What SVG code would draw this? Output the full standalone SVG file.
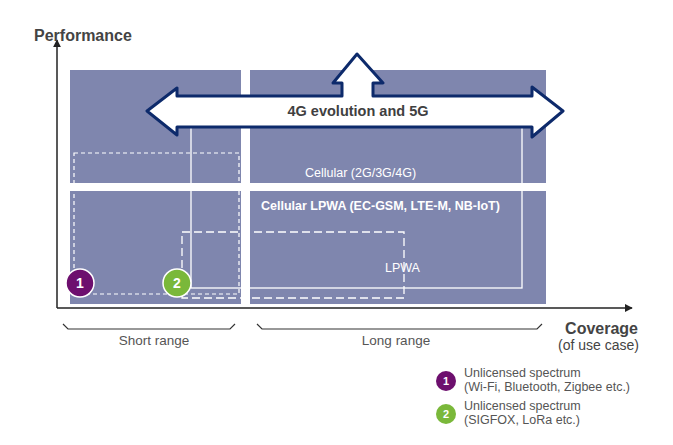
<svg xmlns="http://www.w3.org/2000/svg" width="673" height="445" viewBox="0 0 673 445">
<style>
.panel{fill:#7f86ae}
.t{font-family:"Liberation Sans",Arial,sans-serif}
.w{fill:#fff;font-size:12.5px}
.g{fill:#555;font-size:12.5px}
.ax{stroke:#222;stroke-width:1.5;fill:none}
.brace{stroke:#333;stroke-width:1.2;fill:none}
</style>
<defs>
<marker id="ah" viewBox="0 0 10 10" refX="9" refY="5" markerWidth="8" markerHeight="8" markerUnits="userSpaceOnUse" orient="auto"><path d="M0,0L10,5L0,10z" fill="#222"/></marker>
</defs>
<rect width="673" height="445" fill="#fff"/>
<g id="panels">
<rect class="panel" x="70" y="70" width="171" height="113"/>
<rect class="panel" x="70" y="191" width="171" height="113"/>
<rect class="panel" x="250" y="70" width="296" height="113"/>
<rect class="panel" x="250" y="191" width="296" height="113"/>
</g>
<g id="regions" fill="none" stroke="#fff">
<rect x="74" y="153" width="165" height="141" stroke-width="1.2" stroke-dasharray="4,3"/>
<rect x="182" y="232" width="222" height="66" stroke-width="1.3" stroke-dasharray="8,4"/>
<rect x="191" y="110" width="331" height="178" stroke-width="1.3"/>
</g>
<g id="axes">
<line class="ax" x1="57" y1="308" x2="57" y2="40" marker-end="url(#ah)"/>
<line class="ax" x1="57" y1="308" x2="632" y2="308" marker-end="url(#ah)"/>
</g>
<g id="evolution-arrow">
<path d="M147,111 L177,88 L177,96 L342,96 L342,83 L333,83 L357,54 L383,83 L373,83 L373,96 L532,96 L532,87 L563,111 L532,137 L532,127 L177,127 L177,135 Z" fill="#fff" stroke="#0d2a6b" stroke-width="3" stroke-linejoin="round"/>
<text class="t" x="358" y="116" text-anchor="middle" font-size="14.5" font-weight="bold" fill="#404040">4G evolution and 5G</text>
</g>
<g id="labels">
<text class="t w" x="305" y="177">Cellular (2G/3G/4G)</text>
<text class="t w" x="261" y="210" font-weight="bold">Cellular LPWA (EC-GSM, LTE-M, NB-IoT)</text>
<text class="t w" x="385" y="272">LPWA</text>
</g>
<g id="badges" font-family="Liberation Sans,Arial,sans-serif" font-weight="bold" text-anchor="middle" fill="#fff">
<circle cx="80" cy="283" r="14" fill="#6d0f6e" stroke="#fff" stroke-width="1.5"/>
<text x="80" y="288" font-size="14">1</text>
<circle cx="177" cy="283" r="14" fill="#7ab83a" stroke="#fff" stroke-width="1.5"/>
<text x="177" y="288" font-size="14">2</text>
</g>
<g id="braces">
<path class="brace" d="M63,324 L68,329 L230,329 L235,324"/>
<path class="brace" d="M257,324 L262,329 L537,329 L542,324"/>
<text class="t" x="154" y="345" text-anchor="middle" font-size="13.5" fill="#555">Short range</text>
<text class="t" x="396" y="345" text-anchor="middle" font-size="13.5" fill="#555">Long range</text>
</g>
<g id="axis-titles">
<text class="t" x="34" y="41" font-size="16" font-weight="bold" fill="#444">Performance</text>
<text class="t" x="638" y="334" text-anchor="end" font-size="16" font-weight="bold" fill="#444">Coverage</text>
<text class="t" x="639" y="350" text-anchor="end" font-size="14" fill="#444">(of use case)</text>
</g>
<g id="legend">
<circle cx="446" cy="381" r="10" fill="#6d0f6e"/>
<text class="t" x="446" y="385" text-anchor="middle" font-size="11" font-weight="bold" fill="#fff">1</text>
<text class="t g" x="464" y="377">Unlicensed spectrum</text>
<text class="t g" x="464" y="391">(Wi-Fi, Bluetooth, Zigbee etc.)</text>
<circle cx="446" cy="414" r="10" fill="#7ab83a"/>
<text class="t" x="446" y="418" text-anchor="middle" font-size="11" font-weight="bold" fill="#fff">2</text>
<text class="t g" x="464" y="410">Unlicensed spectrum</text>
<text class="t g" x="464" y="424">(SIGFOX, LoRa etc.)</text>
</g>
</svg>
